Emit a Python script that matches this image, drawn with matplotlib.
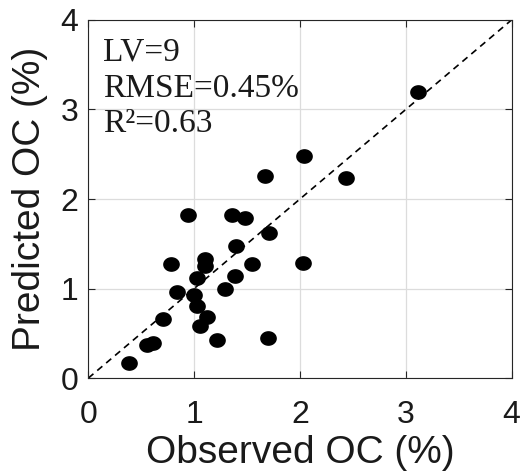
import numpy as np
import matplotlib.pyplot as plt
from matplotlib.path import Path

# observed vs predicted OC (%)
observed = [3.12, 2.04, 2.44, 1.67, 0.94, 1.36, 1.48, 1.71, 1.40, 1.10,
            1.10, 0.78, 1.55, 2.03, 1.03, 1.39, 1.29, 0.84, 1.00, 1.03,
            1.12, 1.06, 0.71, 1.22, 1.70, 0.55, 0.61, 0.38]
predicted = [3.19, 2.48, 2.24, 2.26, 1.82, 1.82, 1.79, 1.62, 1.48, 1.33,
             1.25, 1.27, 1.27, 1.28, 1.12, 1.14, 0.99, 0.96, 0.93, 0.80,
             0.68, 0.58, 0.66, 0.43, 0.45, 0.37, 0.39, 0.17]
ticks = [0, 1, 2, 3, 4]
stats_lines = ['LV=9', 'RMSE=0.45%', 'R\u00b2=0.63']

# slightly wide dots like in the original figure
t = np.linspace(0, 2 * np.pi, 40)
dot = Path(np.column_stack([1.15 * np.cos(t), np.sin(t)]), closed=True)

fig = plt.figure(figsize=(5.29, 4.75), dpi=100)
ax = fig.add_axes([0.167, 0.204, 0.800, 0.754])

# 1:1 line
ax.plot([0, 4], [0, 4], 'k--', lw=1.2, dashes=(4, 3))
ax.plot(observed, predicted, marker=dot, color='black', markersize=11, linestyle='')

ax.set_xlim(0, 4)
ax.set_ylim(0, 4)
ax.set_xticks(ticks)
ax.set_yticks(ticks)
ax.grid(True, color='#dcdcdc', lw=0.9)
ax.set_axisbelow(True)
ax.tick_params(direction='in', top=True, right=True, length=5, width=0.8,
               labelsize=23, colors='#262626')
ax.tick_params(axis='x', pad=16)
ax.tick_params(axis='y', pad=7)
for lab in ax.get_xticklabels() + ax.get_yticklabels():
    lab.set_family('Liberation Sans')
    lab.set_color('#1a1a1a')
for sp in ax.spines.values():
    sp.set_color('#262626')
    sp.set_linewidth(0.8)

ax.set_xlabel('Observed OC (%)', fontsize=28, family='Liberation Sans', color='#1a1a1a')
ax.set_ylabel('Predicted OC (%)', fontsize=28, family='Liberation Sans', color='#1a1a1a')
ax.xaxis.set_label_coords(0.5, -0.158)
ax.yaxis.set_label_coords(-0.095, 0.5)

for yy, s in zip([0.888, 0.785, 0.688], stats_lines):
    ax.text(0.035, yy, s, transform=ax.transAxes, va='baseline', ha='left',
            fontsize=24, family='Liberation Serif', color='#1a1a1a')

fig.savefig('out.png', dpi=100)
